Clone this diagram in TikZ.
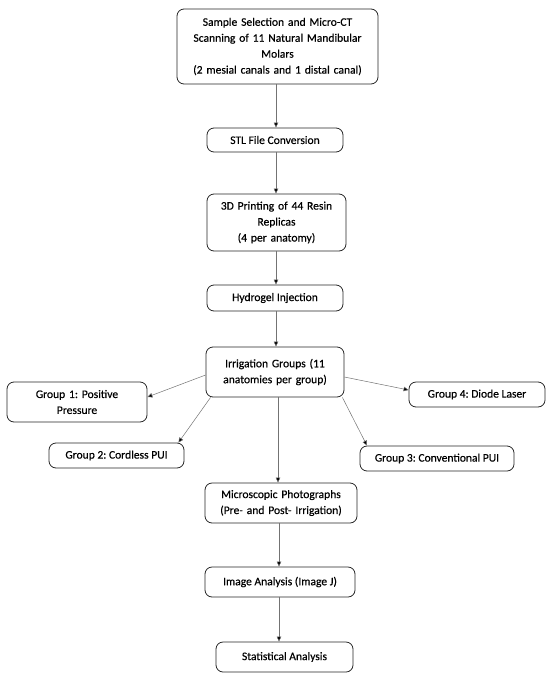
\documentclass[tikz,border=0pt]{standalone}
\usepackage{fontspec}
\setmainfont{Carlito}
\newfontfamily\boxfont[FakeBold=0.35]{Carlito}
\usetikzlibrary{arrows.meta}
\frenchspacing
\begin{document}
\begin{tikzpicture}[x=1bp,y=-1bp,
  box/.style={draw=black!85, line width=0.8pt, rounded corners=7bp, align=center, inner sep=2bp,
    font=\boxfont\fontsize{11.6}{16}\selectfont},
  conn/.style={draw=black!55, line width=0.5pt, -{Triangle[length=5bp,width=4.5bp,fill=black]}}]
\useasboundingbox (0,0) rectangle (550,676);
\node[box, minimum width=201bp, minimum height=75bp, text width=197bp] (b1) at (277.5,46.5)
  {Sample Selection and Micro-CT\\Scanning of 11 Natural Mandibular\\Molars\\(2 mesial canals and 1 distal canal)};
\node[box, minimum width=136bp, minimum height=24bp] (b2) at (275,140) {STL File Conversion};
\node[box, minimum width=139bp, minimum height=57bp, text width=130bp] (b3) at (276.5,222.5)
  {3D Printing of 44 Resin\\Replicas\\(4 per anatomy)};
\node[box, minimum width=136bp, minimum height=26bp] (b4) at (275,298) {Hydrogel Injection};
\node[box, minimum width=138bp, minimum height=50bp, text width=132bp] (b5) at (275,372)
  {Irrigation Groups (11\\anatomies per group)};
\node[box, minimum width=140bp, minimum height=40bp, text width=130bp] (g1) at (77,402)
  {Group 1: Positive\\Pressure};
\node[box, minimum width=135bp, minimum height=25bp] (g2) at (116.5,455.5) {Group 2: Cordless PUI};
\node[box, minimum width=136bp, minimum height=25bp] (g4) at (477,394.5) {Group 4: Diode Laser};
\node[box, minimum width=154bp, minimum height=25bp] (g3) at (437,458.5) {Group 3: Conventional PUI};
\node[box, minimum width=152bp, minimum height=40bp, text width=148bp] (b6) at (281,503)
  {Microscopic Photographs\\(Pre- and Post- Irrigation)};
\node[box, minimum width=150bp, minimum height=30bp] (b7) at (280,582) {Image Analysis (Image J)};
\node[box, minimum width=137bp, minimum height=30bp] (b8) at (284.5,657) {Statistical Analysis};

\draw[conn] (b1.south -| 276,0) -- (b2.north -| 276,0);
\draw[conn] (b2.south -| 276,0) -- (b3.north -| 276,0);
\draw[conn] (b3.south -| 276,0) -- (b4.north -| 276,0);
\draw[conn] (b4.south -| 276,0) -- (b5.north -| 276,0);
\draw[conn] (b5.south -| 278,0) -- (b6.north -| 278,0);
\draw[conn] (b6.south -| 279,0) -- (b7.north -| 279,0);
\draw[conn] (b7.south -| 279,0) -- (b8.north -| 279,0);
\draw[conn] (b5.west |- 0,375) -- (g1.east |- 0,397);
\draw[conn] ([xshift=5bp]b5.south west) -- ([xshift=-6bp]g2.north east);
\draw[conn] (b5.east |- 0,377) -- (g4.west |- 0,390);
\draw[conn] ([xshift=-2bp]b5.south east) -- ([xshift=-70bp]g3.north);
\end{tikzpicture}
\end{document}
